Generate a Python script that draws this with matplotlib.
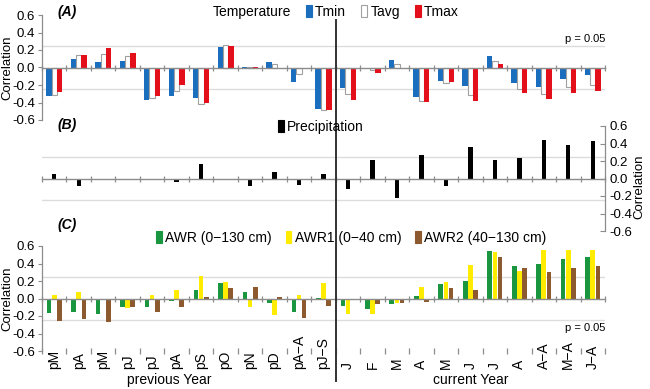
import numpy as np
import matplotlib
matplotlib.use("Agg")
from matplotlib import pyplot as plt
from matplotlib.patches import Rectangle
from matplotlib.lines import Line2D
from matplotlib.transforms import blended_transform_factory

plt.rcParams['font.family'] = ['Liberation Sans', 'DejaVu Sans']
plt.rcParams['axes.unicode_minus'] = False

months = ['pM', 'pA', 'pM', 'pJ', 'pJ', 'pA', 'pS', 'pO', 'pN', 'pD', 'pA−A', 'pJ−S',
          'J', 'F', 'M', 'A', 'M', 'J', 'J', 'A', 'A−A', 'M−A', 'J−A']
n_prev = 12

tmin = [-0.32, 0.10, 0.06, 0.07, -0.37, -0.32, -0.35, 0.24, 0.005, 0.06, -0.16, -0.47,
        -0.23, -0.02, 0.09, -0.34, -0.15, -0.21, 0.13, -0.18, -0.22, -0.13, -0.09]
tavg = [-0.31, 0.14, 0.16, 0.13, -0.35, -0.27, -0.42, 0.26, 0.005, 0.04, -0.07, -0.48,
        -0.30, -0.03, 0.045, -0.38, -0.18, -0.31, 0.08, -0.25, -0.30, -0.22, -0.20]
tmax = [-0.28, 0.14, 0.22, 0.17, -0.32, -0.20, -0.41, 0.25, 0.005, 0.0, -0.01, -0.48,
        -0.37, -0.065, 0.0, -0.39, -0.17, -0.38, 0.04, -0.29, -0.36, -0.29, -0.27]

prec = [0.056, -0.08, -0.02, -0.02, -0.008, -0.04, 0.17, -0.01, -0.08, 0.07, -0.07, 0.056,
        -0.12, 0.21, -0.22, 0.27, -0.08, 0.36, 0.21, 0.24, 0.44, 0.38, 0.43]

awr = [-0.17, -0.15, -0.18, -0.10, -0.095, -0.027, 0.10, 0.18, 0.076, -0.057, -0.15, 0.005,
       -0.09, -0.12, -0.065, 0.027, 0.17, 0.205, 0.54, 0.375, 0.40, 0.45, 0.475]
awr1 = [0.045, 0.08, -0.02, -0.11, 0.045, 0.10, 0.26, 0.19, -0.095, -0.19, 0.045, 0.18,
        -0.18, -0.18, -0.053, 0.13, 0.19, 0.38, 0.53, 0.32, 0.555, 0.555, 0.56]
awr2 = [-0.255, -0.23, -0.265, -0.095, -0.155, -0.10, 0.015, 0.12, 0.13, 0.015, -0.22, -0.085,
        -0.02, -0.065, -0.053, -0.04, 0.115, 0.10, 0.475, 0.35, 0.30, 0.35, 0.375]

BLUE = '#1a6ebd'
RED = '#e3101c'
GREEN = '#1a9641'
YELLOW = '#ffec00'
BROWN = '#8c5a2e'
AXGRAY = '#8c8c8c'

x = np.arange(len(months))
bounds = np.arange(len(months) + 1) - 0.5

fig = plt.figure(figsize=(6.5, 3.89), dpi=100)
left, width = 42 / 650, 563 / 650
H = 389.
axA = fig.add_axes([left, 1 - 120 / H, width, 105 / H])
axB = fig.add_axes([left, 1 - 231 / H, width, 105 / H])
axC = fig.add_axes([left, 1 - 351 / H, width, 105 / H])


def style(ax, side='left', bottom_ticks=False):
    ax.set_xlim(-0.5, len(months) - 0.5)
    ax.set_ylim(-0.6, 0.6)
    ax.set_yticks(np.arange(-0.6, 0.61, 0.2))
    ax.set_yticklabels(['%.1f' % v for v in np.arange(-0.6, 0.61, 0.2)])
    for s in ['left', 'right', 'bottom']:
        ax.spines[s].set_visible(False)
    ax.spines[side].set_visible(True)
    ax.spines[side].set_color(AXGRAY)
    ax.spines[side].set_linewidth(0.9)
    ax.spines['top'].set_position(('data', 0))
    ax.spines['top'].set_color(AXGRAY)
    ax.spines['top'].set_linewidth(1.0)
    ax.spines['top'].set_zorder(3)
    if side == 'right':
        ax.yaxis.tick_right()
        ax.yaxis.set_label_position('right')
        ax.tick_params(axis='y', direction='in', length=3.5, color=AXGRAY,
                       labelsize=9.5, pad=3)
    else:
        ax.tick_params(axis='y', direction='out', length=3, color=AXGRAY,
                       labelsize=9.5, pad=2)
    ax.set_xticks(x)
    ax.set_xticks(bounds, minor=True)
    ax.tick_params(axis='x', which='major', length=0, top=False,
                   labeltop=False, labelbottom=False)
    ax.tick_params(axis='x', which='minor', direction='inout', length=5,
                   color=AXGRAY, width=0.9, top=True, bottom=bottom_ticks)
    for yv in (0.25, -0.25):
        ax.axhline(yv, color='#dcdcdc', lw=1.0, zorder=0)
    ax.set_facecolor('none')


# (A) temperature
style(axA)
w = 0.22
axA.bar(x - w, tmin, w, color=BLUE, zorder=2)
axA.bar(x, tavg, w, color='white', edgecolor='#a0a0a0', linewidth=0.8, zorder=2)
axA.bar(x + w, tmax, w, color=RED, zorder=2)
axA.set_ylabel('Correlation', fontsize=9.5)
axA.yaxis.set_label_coords(-0.051, 0.5)
axA.text(22.5, 0.27, 'p = 0.05', ha='right', va='bottom', fontsize=8)

# (B) precipitation
style(axB, side='right')
axB.bar(x, prec, 0.18, color='black', zorder=2)
axB.set_ylabel('Correlation', fontsize=9.5)
axB.yaxis.set_label_coords(1.05, 0.42)

# (C) soil water
style(axC, bottom_ticks=True)
w = 0.21
axC.bar(x - w, awr, 0.19, color=GREEN, zorder=2)
axC.bar(x, awr1, 0.19, color=YELLOW, zorder=2)
axC.bar(x + w, awr2, 0.19, color=BROWN, zorder=2)
axC.set_ylabel('Correlation', fontsize=9.5)
axC.yaxis.set_label_coords(-0.051, 0.5)
axC.text(22.5, -0.28, 'p = 0.05', ha='right', va='top', fontsize=8)

# month labels, bottom aligned like the original
tr = blended_transform_factory(axC.transData, fig.transFigure)
for xi, m in zip(x, months):
    axC.text(xi, 1 - 369 / H, m, transform=tr, rotation=90, ha='center',
             va='bottom', fontsize=10)
axC.text(4.7, 0.023, 'previous Year', transform=tr, ha='center', va='center', fontsize=10)
axC.text(17, 0.023, 'current Year', transform=tr, ha='center', va='center', fontsize=10)

# separator between previous and current year
trs = blended_transform_factory(axA.transData, fig.transFigure)
fig.add_artist(Line2D([n_prev - 0.5] * 2, [1 - 20 / H, 1 - 381 / H], transform=trs,
                      color='#333333', lw=1.4))

# panel letters
for ypix, lab in [(12, '(A)'), (125, '(B)'), (225, '(C)')]:
    fig.text(57 / 650, 1 - ypix / H, lab, fontsize=10, fontweight='bold',
             fontstyle='italic', va='center')


def patch(c, ec=None):
    return Rectangle((0, 0), 1, 1, facecolor=c, edgecolor=ec if ec else c, linewidth=0.8)


legkw = dict(frameon=False, borderpad=0, borderaxespad=0, handlelength=0.4,
             handleheight=1.0, handletextpad=0.25, fontsize=10, loc='center left')

fig.text(213 / 650, 1 - 12 / H, 'Temperature', fontsize=10, va='center')
fig.legend([patch(BLUE), patch('white', '#a0a0a0'), patch(RED)], ['Tmin', 'Tavg', 'Tmax'],
           ncol=3, columnspacing=1.1, bbox_to_anchor=(306 / 650, 1 - 12 / H), **legkw)
fig.legend([patch('black')], ['Precipitation'],
           bbox_to_anchor=(278 / 650, 1 - 127 / H), **legkw)
fig.legend([patch(GREEN), patch(YELLOW), patch(BROWN)],
           ['AWR (0−130 cm)', 'AWR1 (0−40 cm)', 'AWR2 (40−130 cm)'],
           ncol=3, columnspacing=1.0, bbox_to_anchor=(156 / 650, 1 - 238 / H), **legkw)

fig.savefig('out.png', dpi=100)
